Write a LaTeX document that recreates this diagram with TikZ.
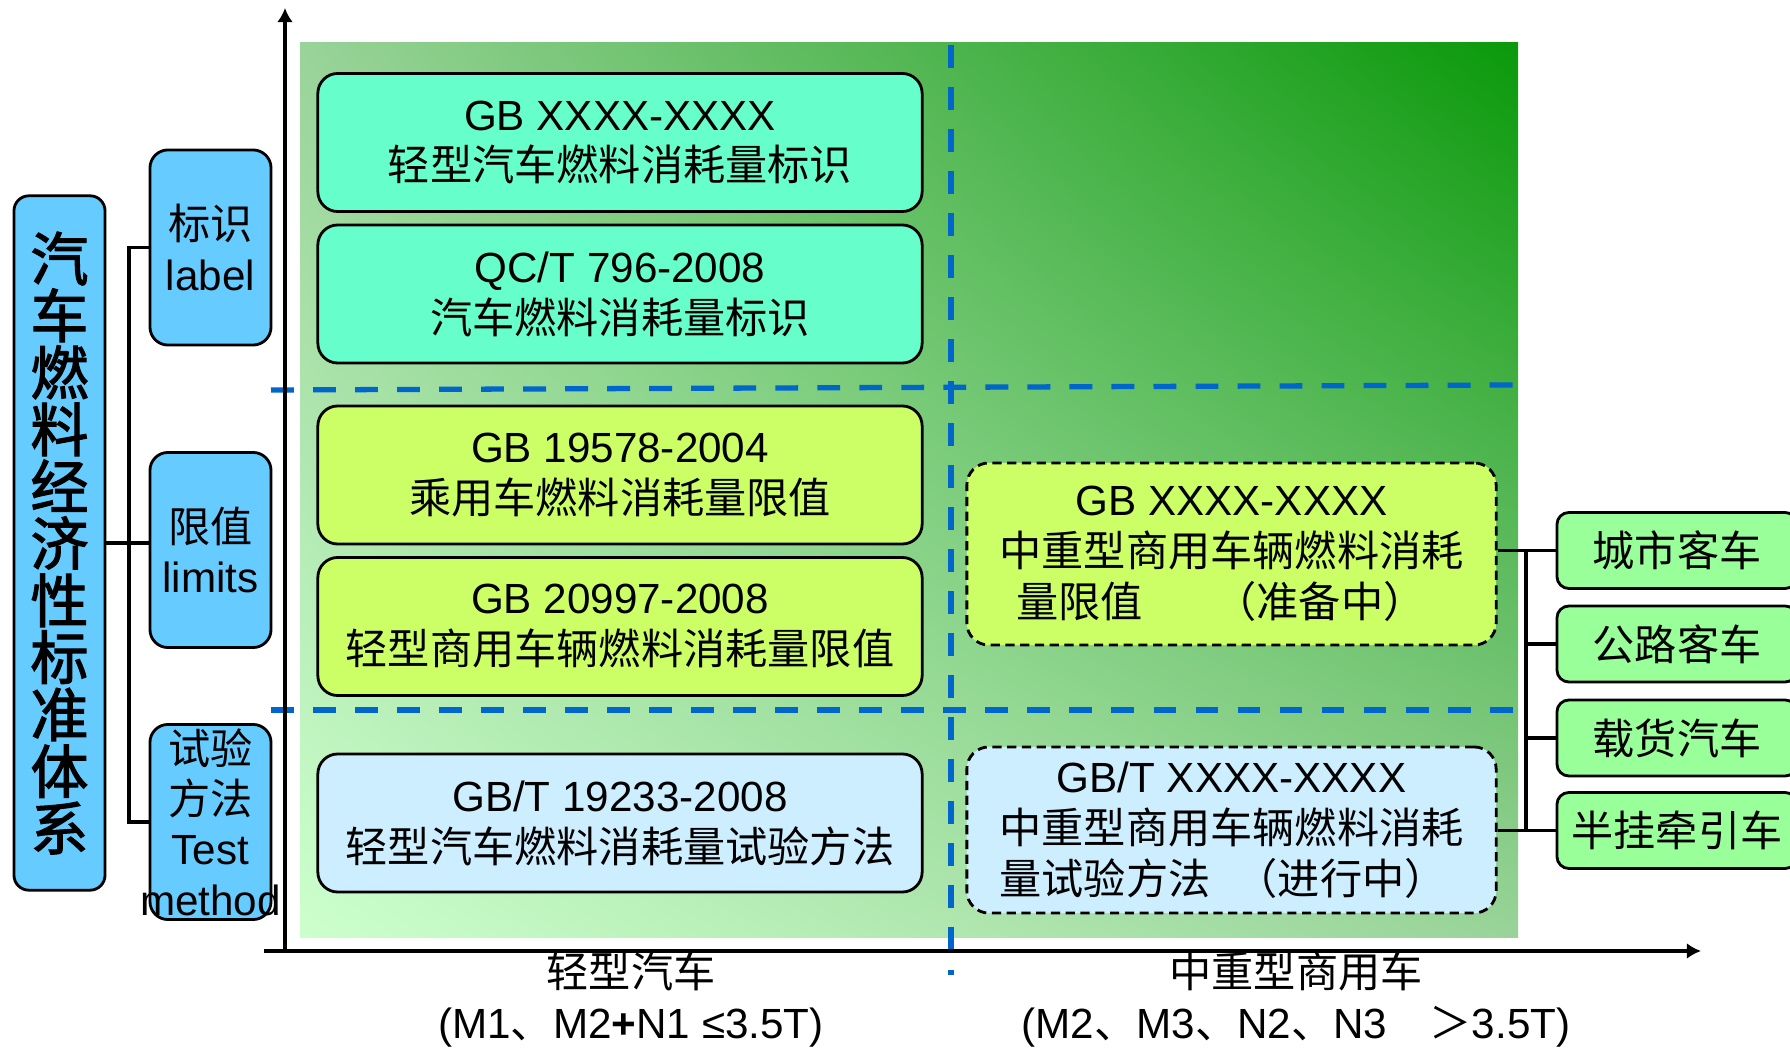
\documentclass[tikz,border=0pt]{standalone}
\usepackage{fontspec}
\setmainfont{Liberation Sans}
\newfontfamily\cjk{Noto Sans CJK SC}
\newfontfamily\cjkb[FakeBold=2]{Noto Sans CJK SC}
\usetikzlibrary{arrows.meta,positioning,shadings}
\definecolor{celeste}{HTML}{66CCFF}
\definecolor{acqua}{HTML}{66FFCC}
\definecolor{giallo}{HTML}{CCFF66}
\definecolor{azzurro}{HTML}{CCEEFF}
\definecolor{verde}{HTML}{99FF99}
\definecolor{blu}{HTML}{0066CC}
\definecolor{verdescuro}{HTML}{0A990A}
\definecolor{verdemedio}{HTML}{99D399}
\definecolor{verdechiaro}{HTML}{CCFFCC}

\begin{document}
\begin{tikzpicture}[x=0.01cm, y=-0.01cm, >={Latex[length=4pt,width=4.5pt]}, font=\fontsize{12}{14.5}\selectfont]

\useasboundingbox (0,0) rectangle (1790,1049);
\clip (0,0) rectangle (1790,1049);

\tikzset{
    sist/.style={draw, fill=celeste, rounded corners=0.15cm, minimum width=0.91cm, minimum height=6.94cm, inner sep=0pt, align=center, line width=0.8pt, font=\cjkb\fontsize{16.5}{16.2}\selectfont},
    cat/.style={draw, fill=celeste, rounded corners=0.18cm, minimum width=1.21cm, minimum height=1.95cm, inner sep=0pt, align=center, line width=0.8pt, font=\fontsize{12}{14.3}\selectfont},
    norma/.style={draw, rounded corners=0.2cm, minimum width=6.04cm, minimum height=1.38cm, inner sep=0pt, align=center, line width=0.8pt},
    bozza/.style={norma, dash pattern=on 2.6pt off 1.6pt, rounded corners=0.22cm, minimum width=5.29cm},
    veic/.style={draw, fill=verde, rounded corners=0.12cm, minimum width=2.4cm, minimum height=0.76cm, inner sep=0pt, line width=0.8pt, font=\cjk\fontsize{12}{14.5}\selectfont},
    sep/.style={blu, line width=1.5pt, dash pattern=on 6.5pt off 5.45pt},
    asse/.style={->, line width=0.9pt},
    conn/.style={line width=0.9pt}
}

% SFONDO
\shade[lower left=verdechiaro, upper right=verdescuro, upper left=verdemedio, lower right=verdemedio] (300,43) rectangle (1518,937);

% Separatori
\draw[sep] (271,390) -- (1518,385);
\draw[sep] (271,710) -- (1518,710);
\draw[sep] (951,45) -- (951,975);

% Assi
\draw[asse] (285,951) -- (285,8);
\draw[asse] (264,951) -- (1701,951);

% Sistema e categorie
\node[sist] (s) at (59.5,543) {汽\\车\\燃\\料\\经\\济\\性\\标\\准\\体\\系};
\node[cat] (c1) at (210.5,247.5) {{\cjk 标识}\\label};
\node[cat] (c2) at (210.5,550) {{\cjk 限值}\\limits};
\node[cat] (c3) at (210.5,822) {{\cjk 试验}\\{\cjk 方法}\\Test\\\makebox[0pt]{method}};

% Norme veicoli leggeri
\node[norma, fill=acqua] (n1) at (620,142.5) {GB XXXX-XXXX\\{\cjk 轻型汽车燃料消耗量标识}};
\node[norma, fill=acqua] (n2) at (620,294) {QC/T 796-2008\\{\cjk 汽车燃料消耗量标识}};
\node[norma, fill=giallo] (n3) at (620,475) {GB 19578-2004\\{\cjk 乘用车燃料消耗量限值}};
\node[norma, fill=giallo] (n4) at (620,626.5) {GB 20997-2008\\{\cjk 轻型商用车辆燃料消耗量限值}};
\node[norma, fill=azzurro] (n5) at (620,823) {GB/T 19233-2008\\{\cjk 轻型汽车燃料消耗量试验方法}};

% Norme veicoli pesanti
\node[bozza, fill=giallo, minimum height=1.82cm] (h1) at (1231.5,554) {GB XXXX-XXXX\\{\cjk 中重型商用车辆燃料消耗}\\{\cjk\makebox[11em][l]{\hspace{0.4em}量限值\hspace{1.7em}（准备中）}}};
\node[bozza, fill=azzurro, minimum height=1.66cm] (h2) at (1231.5,830) {GB/T XXXX-XXXX\\{\cjk 中重型商用车辆燃料消耗}\\{\cjk\makebox[11em][l]{量试验方法\hspace{0.6em}（进行中）}}};

% Tipi di veicolo
\node[veic] (v1) at (1677,550.5) {城市客车};
\node[veic] (v2) at (1677,644) {公路客车};
\node[veic] (v3) at (1677,738) {载货汽车};
\node[veic] (v4) at (1677,830.5) {半挂牵引车};

% Collegamenti
\coordinate (gl) at (129,543);
\coordinate (gr) at (1526,690);
\draw[conn] (s.east) -- (s.east -| c2.west);
\draw[conn] (c1.west) -| (gl) |- (c3.west);
\draw[conn] (h1.east |- v1.west) -- (v1.west);
\draw[conn] (v1.west -| gr) -- (v4.west -| gr);
\draw[conn] (v2.west -| gr) -- (v2.west);
\draw[conn] (v3.west -| gr) -- (v3.west);
\draw[conn] (h2.east |- v4.west) -- (v4.west);

% Etichette asse x
\node[align=center] (xl) at (631,1000) {{\cjk 轻型汽车}\\(M1{\cjk 、}M2\textbf{+}N1 ≤3.5T)};
\node[align=center] (xh) at (1296,1000) {{\cjk 中重型商用车}\\(M2{\cjk 、}M3{\cjk 、}N2{\cjk 、}N3{\cjk 　＞}3.5T)};

\end{tikzpicture}
\end{document}
